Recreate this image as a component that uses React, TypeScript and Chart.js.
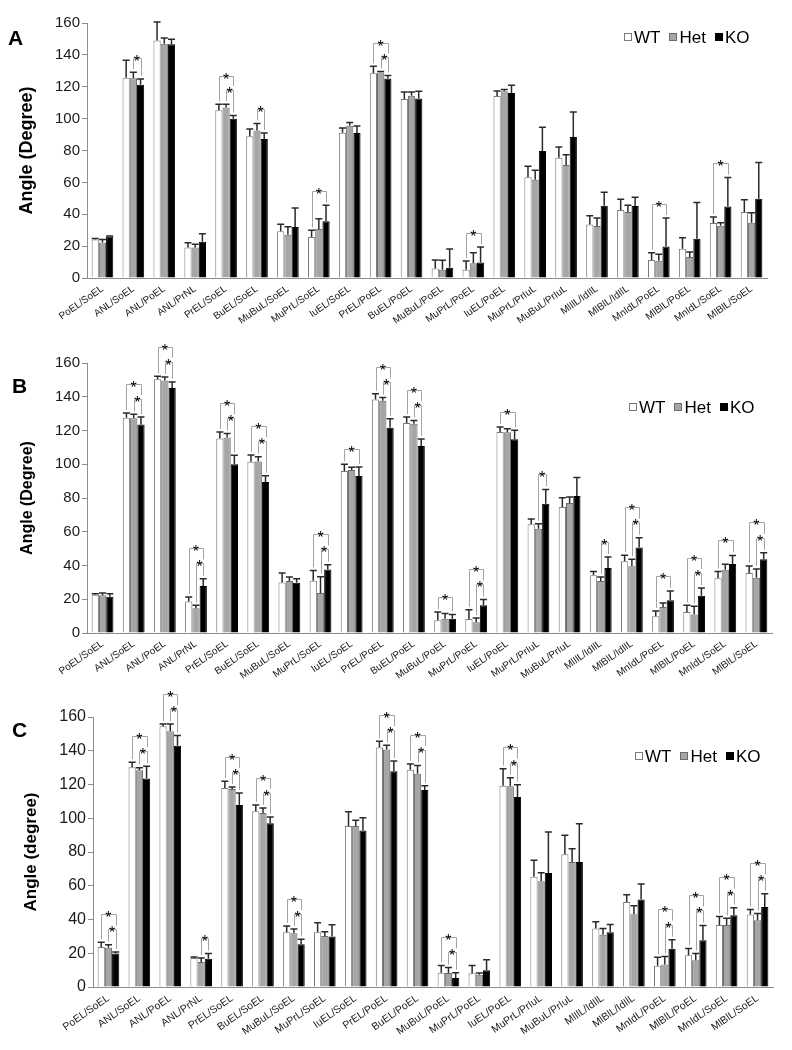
import React, { useEffect, useRef } from "react";
import { Chart, registerables } from "chart.js";

Chart.register(...registerables);

const FONT = '"Liberation Sans", Arial, Helvetica, sans-serif';

const categories = [
  "PoEL/SoEL", "ANL/SoEL", "ANL/PoEL", "ANL/PrNL", "PrEL/SoEL", "BuEL/SoEL",
  "MuBuL/SoEL", "MuPrL/SoEL", "IuEL/SoEL", "PrEL/PoEL", "BuEL/PoEL", "MuBuL/PoEL",
  "MuPrL/PoEL", "IuEL/PoEL", "MuPrL/PrIuL", "MuBuL/PrIuL", "MlIlL/IdIlL", "MlBlL/IdIlL",
  "MnIdL/PoEL", "MlBlL/PoEL", "MnIdL/SoEL", "MlBlL/SoEL",
];
const seriesNames = ["WT", "Het", "KO"];
const yMin = 0;
const yMax = 160;
const yStep = 20;

// Panel A
const wtA = [24.2, 125.7, 149, 19.1, 105.2, 88.9, 29.3, 25.7, 91.2, 128.5, 112.3, 5.9, 5.2, 114.2, 63.2, 75.5, 33.5, 42.7, 11.3, 18.4, 34.5, 41.4];
const hetA = [22.2, 125.3, 147, 19.1, 107, 92.5, 27.2, 30.8, 95.6, 129, 114.4, 5.2, 9.2, 117.2, 61.7, 70.9, 32.6, 41.4, 10.9, 13.2, 32.8, 34.7];
const koA = [26.1, 121.3, 146.6, 22.8, 100, 87.2, 32, 35.6, 91, 125.1, 112.6, 6.5, 9.8, 116.1, 79.7, 88.5, 45.4, 45.2, 19.7, 24.7, 44.8, 49.8];
const wtErrA = [0.6, 11, 11.6, 3, 3.8, 4.6, 4.4, 4.2, 2.9, 4.3, 4.4, 5.4, 5.4, 3.1, 6.9, 6.7, 5.6, 6.7, 4.6, 6.9, 3.8, 7.7];
const hetErrA = [2, 3.8, 3.6, 2, 2, 4.4, 5, 6.4, 1.9, 0.5, 2.3, 6, 6.7, 1, 5.9, 6.5, 5, 4.2, 4, 3.1, 1.9, 6.3];
const koErrA = [0.2, 3.6, 3.2, 5, 2, 3.8, 12, 10, 4.4, 2, 4.6, 11.7, 9.6, 4.8, 14.9, 15.7, 8.4, 5.4, 18, 22.6, 18.2, 22.6];
// significance brackets: [categoryIndex, fromSeries, toSeries]
const sigA = [[1, 1, 2], [4, 0, 2], [4, 1, 2], [5, 1, 2], [7, 0, 2], [9, 0, 2], [9, 1, 2], [12, 0, 2], [18, 0, 2], [20, 0, 2]];

// Panel B
const wtB = [22.7, 127.6, 150.3, 18.6, 115.2, 101.5, 30, 31, 96, 138.3, 124.4, 7.5, 8.3, 119.1, 64.4, 74.7, 34.2, 42.5, 9.9, 12.4, 32.4, 35.6];
const hetB = [22.3, 127.2, 149.7, 14.6, 115.8, 101.7, 30.8, 23.7, 96.6, 137.7, 124, 8.5, 6.3, 118.9, 61.8, 77, 30.8, 39.5, 15.4, 10.9, 37.5, 32.8];
const koB = [21.5, 123.5, 145.2, 27.9, 100, 89.5, 29.8, 37.7, 93, 121.7, 110.8, 8.5, 16.4, 114.8, 76.6, 81.2, 38.5, 50.6, 19.4, 22.1, 40.9, 43.7];
const wtErrB = [0.6, 2.8, 1.8, 2.7, 3.9, 4, 5.5, 6.1, 4, 3.5, 3.6, 4.9, 5.5, 3, 3.2, 5.5, 2.2, 3.6, 3.2, 4, 4.1, 4.1];
const hetErrB = [1.4, 2.4, 2, 1.8, 2.4, 2.8, 2.4, 9.7, 1.6, 1.8, 2, 3, 2.6, 2.1, 3, 3.6, 2.4, 4.2, 2.4, 4.9, 3.2, 5.1];
const koErrB = [1.8, 4.5, 3.5, 4.3, 5.3, 3.7, 2.4, 2.8, 5.3, 5.3, 4.2, 2.4, 3.4, 5.3, 8.5, 10.9, 6.5, 5.9, 5.5, 4.5, 5.1, 3.8];
const sigB = [
  [1, 0, 2], [1, 1, 2], [2, 0, 2], [2, 1, 2], [3, 0, 2], [3, 1, 2], [4, 0, 2], [4, 1, 2],
  [5, 0, 2], [5, 1, 2], [7, 0, 2], [7, 1, 2], [8, 0, 2], [9, 0, 2], [9, 1, 2], [10, 0, 2],
  [10, 1, 2], [11, 0, 2], [12, 0, 2], [12, 1, 2], [13, 0, 2], [14, 1, 2], [16, 1, 2],
  [17, 0, 2], [17, 1, 2], [18, 0, 2], [19, 0, 2], [19, 1, 2], [20, 0, 2], [21, 0, 2], [21, 1, 2],
];

// Panel C
const wtC = [23.7, 130.2, 154.5, 17.2, 117.9, 104.1, 32.4, 32.4, 95.4, 142, 128.8, 8.5, 8.1, 119.3, 65.4, 78.6, 34.6, 50.4, 12.6, 18.8, 36.7, 42.9];
const hetC = [23.3, 128.4, 151.5, 14.8, 117.3, 103.1, 31.8, 30.2, 95.4, 140.8, 126.4, 8.3, 7.3, 118.9, 62.6, 74.1, 31, 43.1, 13.4, 15.8, 36.7, 39.5];
const koC = [19.8, 123.5, 143, 16.8, 107.9, 97, 25.3, 30, 92.8, 127.8, 116.7, 5.3, 9.9, 112.6, 67.6, 74.1, 32.4, 51.8, 22.7, 27.7, 42.5, 47.4];
const wtErrC = [2.8, 3, 1.4, 0.6, 4.1, 3.8, 3.8, 5.7, 8.5, 3.6, 3.4, 4.3, 4.7, 10.1, 9.7, 11.3, 4, 4.3, 5.1, 4, 5.1, 3];
const hetErrC = [1.8, 1.6, 4.3, 2.4, 1.2, 3, 2.6, 2.6, 3.4, 2.4, 4.9, 3.2, 1, 5.1, 5.1, 7.9, 3.6, 5.1, 4.7, 4, 4, 4];
const koErrC = [1, 7.3, 6.1, 3, 7.1, 3.8, 3, 6.9, 7.5, 6.1, 2.6, 3.2, 6.3, 7.3, 24.3, 22.7, 4.7, 9.3, 5.3, 8.7, 4.5, 7.9];
const sigC = [
  [0, 0, 2], [0, 1, 2], [1, 0, 2], [1, 1, 2], [2, 0, 2], [2, 1, 2], [3, 1, 2], [4, 0, 2],
  [4, 1, 2], [5, 0, 2], [5, 1, 2], [6, 0, 2], [6, 1, 2], [9, 0, 2], [9, 1, 2], [10, 0, 2],
  [10, 1, 2], [11, 0, 2], [11, 1, 2], [13, 0, 2], [13, 1, 2], [18, 0, 2], [18, 1, 2],
  [19, 0, 2], [19, 1, 2], [20, 0, 2], [20, 1, 2], [21, 0, 2], [21, 1, 2],
];

const fills = ["#ffffff", "#a6a6a6", "#000000"];
const borders = ["#7a7a7a", "#6a6a6a", "#000000"];

type PanelDef = {
  letter: string;
  title: string;
  values: number[][];
  errs: number[][];
  sig: number[][];
  canvasTop: number;
  canvasHeight: number;
  areaTop: number;
  areaBottom: number;
  areaLeft: number;
  areaRight: number;
  tickSize: number;
  xTickSize: number;
  titleSize: number;
  titleCenterX: number;
  letterPos: [number, number];
  legendPos: [number, number];
};

const panels: PanelDef[] = [
  {
    letter: "A", title: "Angle (Degree)",
    values: [wtA, hetA, koA], errs: [wtErrA, hetErrA, koErrA], sig: sigA,
    canvasTop: 0, canvasHeight: 345, areaTop: 23, areaBottom: 278, areaLeft: 87, areaRight: 767,
    tickSize: 15, xTickSize: 10, titleSize: 18, titleCenterX: 27.5,
    letterPos: [8, 27], legendPos: [624, 37],
  },
  {
    letter: "B", title: "Angle (Degree)",
    values: [wtB, hetB, koB], errs: [wtErrB, hetErrB, koErrB], sig: sigB,
    canvasTop: 335, canvasHeight: 355, areaTop: 363, areaBottom: 633, areaLeft: 87, areaRight: 772,
    tickSize: 15, xTickSize: 10, titleSize: 16, titleCenterX: 27.5,
    letterPos: [12, 375], legendPos: [629, 407],
  },
  {
    letter: "C", title: "Angle (degree)",
    values: [wtC, hetC, koC], errs: [wtErrC, hetErrC, koErrC], sig: sigC,
    canvasTop: 680, canvasHeight: 370, areaTop: 717, areaBottom: 987, areaLeft: 93, areaRight: 773,
    tickSize: 16, xTickSize: 10.5, titleSize: 17, titleCenterX: 31,
    letterPos: [12, 719], legendPos: [635, 756],
  },
];

function makeOverlay(values: number[][], errs: number[][], sig: number[][]) {
  return {
    id: "errOverlay",
    afterDatasetsDraw(chart: any) {
      const ctx = chart.ctx as CanvasRenderingContext2D;
      const y = chart.scales.y;
      const topVal = (s: number, c: number) => values[s][c] + errs[s][c];
      ctx.save();
      // error bars
      ctx.strokeStyle = "#2a2a2a";
      ctx.lineWidth = 1.5;
      for (let s = 0; s < values.length; s++) {
        const meta = chart.getDatasetMeta(s);
        meta.data.forEach((bar: any, c: number) => {
          const x = bar.x;
          const y1 = y.getPixelForValue(topVal(s, c));
          ctx.beginPath();
          ctx.moveTo(x, bar.y);
          ctx.lineTo(x, y1);
          ctx.moveTo(x - 3.5, y1);
          ctx.lineTo(x + 3.5, y1);
          ctx.stroke();
        });
      }
      // significance brackets
      const levels = new Map<number[], number>();
      const ordered = [...sig].sort((p, q) => (p[2] - p[1]) - (q[2] - q[1]));
      ordered.forEach((entry) => {
        const [c, a, b] = entry;
        let m = -Infinity;
        for (let s = a; s <= b; s++) m = Math.max(m, topVal(s, c));
        let level = m + 9;
        const inner = sig.find(
          (e) => e !== entry && e[0] === c && e[1] >= a && e[2] <= b && e[2] - e[1] < b - a
        );
        if (inner && levels.has(inner)) level = Math.max(level, (levels.get(inner) as number) + 9);
        levels.set(entry, level);
        const xa = chart.getDatasetMeta(a).data[c].x;
        const xb = chart.getDatasetMeta(b).data[c].x;
        const py = Math.round(y.getPixelForValue(level)) + 0.5;
        const leftEnd = y.getPixelForValue(topVal(a, c)) - 3;
        let rightEnd = y.getPixelForValue(topVal(b, c)) - 3;
        if (inner && inner[2] === b && levels.has(inner)) {
          rightEnd = y.getPixelForValue(levels.get(inner) as number) - 4;
        }
        const lx = Math.round(xa) + 0.5;
        const rx = Math.round(xb) + 0.5;
        ctx.strokeStyle = "#a3a3a3";
        ctx.lineWidth = 1;
        ctx.beginPath();
        ctx.moveTo(lx, leftEnd);
        ctx.lineTo(lx, py);
        ctx.lineTo(rx, py);
        ctx.lineTo(rx, rightEnd);
        ctx.stroke();
        ctx.fillStyle = "#000";
        ctx.font = `16px ${FONT}`;
        ctx.textAlign = "center";
        ctx.textBaseline = "alphabetic";
        ctx.fillText("*", (xa + xb) / 2, py + 8);
      });
      ctx.restore();
    },
  };
}

function Panel({ p }: { p: PanelDef }) {
  const ref = useRef<HTMLCanvasElement | null>(null);
  useEffect(() => {
    if (!ref.current) return;
    const xAxisHeight = p.canvasHeight - (p.areaBottom - p.canvasTop);
    const titleLine = p.titleSize * 1.2;
    const chart = new Chart(ref.current, {
      type: "bar",
      data: {
        labels: categories,
        datasets: seriesNames.map((name, i) => ({
          label: name,
          data: p.values[i],
          backgroundColor: fills[i],
          borderColor: borders[i],
          borderWidth: 1,
          categoryPercentage: 0.7,
          barPercentage: 1.0,
        })),
      },
      options: {
        responsive: false,
        animation: false,
        events: [],
        layout: {
          padding: { top: p.areaTop - p.canvasTop, left: 0, right: 792 - p.areaRight, bottom: 0 },
        },
        plugins: {
          legend: { display: false },
          tooltip: { enabled: false },
        },
        scales: {
          x: {
            grid: { display: true, drawOnChartArea: false, drawTicks: false },
            border: { display: true, color: "#8c8c8c", width: 1 },
            ticks: {
              autoSkip: false,
              minRotation: 35,
              maxRotation: 35,
              padding: 5,
              color: "#1a1a1a",
              font: { size: p.xTickSize, family: FONT },
            },
            afterFit: (scale: any) => {
              scale.height = xAxisHeight;
            },
          },
          y: {
            min: yMin,
            max: yMax,
            ticks: {
              stepSize: yStep,
              padding: 2,
              color: "#1a1a1a",
              font: { size: p.tickSize, family: FONT },
            },
            grid: { display: true, drawOnChartArea: false, drawTicks: true, tickLength: 5, color: "#8c8c8c" },
            border: { display: true, color: "#8c8c8c", width: 1 },
            title: {
              display: true,
              text: p.title,
              color: "#000",
              font: { size: p.titleSize, weight: "bold", family: FONT },
              padding: { top: p.titleCenterX - titleLine / 2, bottom: 0 },
            },
            afterFit: (scale: any) => {
              scale.width = p.areaLeft;
            },
          },
        },
      } as any,
      plugins: [makeOverlay(p.values, p.errs, p.sig)],
    });
    return () => chart.destroy();
  }, [p]);

  return (
    <>
      <canvas
        ref={ref}
        width={792}
        height={p.canvasHeight}
        style={{ position: "absolute", left: 0, top: p.canvasTop, width: 792, height: p.canvasHeight }}
      />
      <div
        style={{
          position: "absolute",
          left: p.letterPos[0],
          top: p.letterPos[1],
          fontFamily: FONT,
          fontWeight: "bold",
          fontSize: 21,
          lineHeight: 1,
          color: "#000",
        }}
      >
        {p.letter}
      </div>
      <div
        style={{
          position: "absolute",
          left: p.legendPos[0],
          top: p.legendPos[1] - 9,
          height: 18,
          display: "flex",
          alignItems: "center",
          fontFamily: FONT,
          fontSize: 17,
          lineHeight: 1,
          color: "#000",
          whiteSpace: "nowrap",
        }}
      >
        {seriesNames.map((name, i) => (
          <span key={name} style={{ display: "flex", alignItems: "center", marginRight: 9 }}>
            <span
              style={{
                display: "inline-block",
                width: 8,
                height: 8,
                boxSizing: "border-box",
                background: fills[i],
                border: `1px solid ${borders[i]}`,
                marginRight: 2,
              }}
            />
            <span>{name}</span>
          </span>
        ))}
      </div>
    </>
  );
}

export default function App() {
  return (
    <div style={{ position: "absolute", left: 0, top: 0, width: 792, height: 1050, background: "#fff" }}>
      {panels.map((p) => (
        <Panel key={p.letter} p={p} />
      ))}
    </div>
  );
}
